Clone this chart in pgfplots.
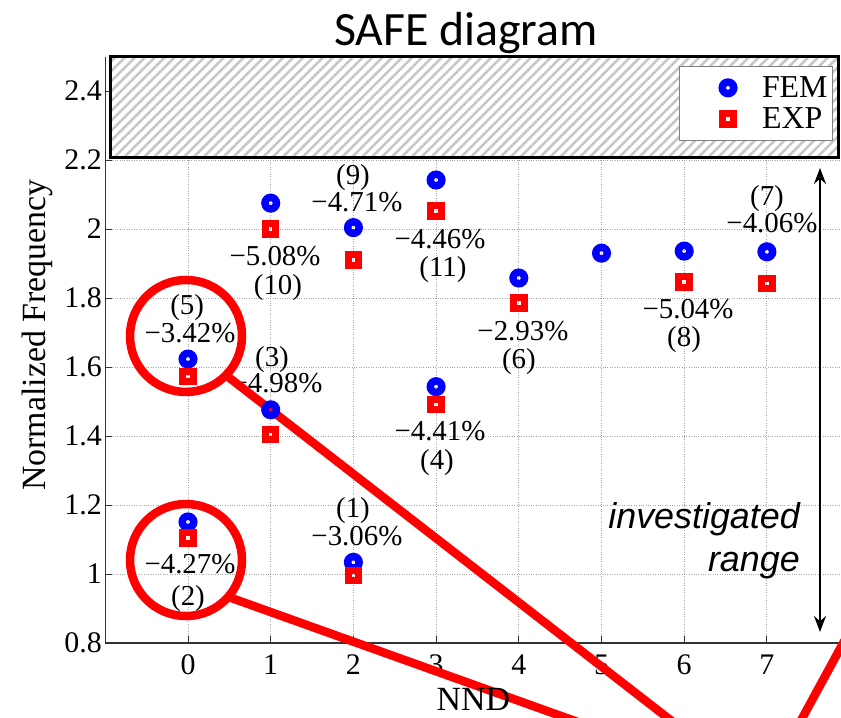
\documentclass[border=0pt]{standalone}
\usepackage{fontspec}
\setmainfont{Liberation Serif}
\newfontfamily\carlito{Carlito}
\newfontfamily\arialfont{Liberation Sans}
\usepackage{pgfplots}
\pgfplotsset{compat=1.18}
\usetikzlibrary{patterns.meta,arrows.meta}
\tikzset{ann/.style={font=\fontsize{29}{34}\selectfont, inner sep=0pt, text height=17bp, text depth=1bp}}
\pgfplotsset{wide marker legend/.style={legend image code/.code={%
  \path[draw=none,fill=none] (0bp,0bp) -- (78bp,0bp);%
  \draw[mark repeat=2,mark phase=2,##1] plot coordinates {(0bp,0bp)(46bp,0bp)(78bp,0bp)};}}}

\pgfplotstableread{
x y
0 1.623
0 1.151
1 2.075
1 1.476
2 2.004
2 1.034
3 2.142
3 1.543
4 1.858
5 1.930
6 1.936
7 1.934
}\femdata

\pgfplotstableread{
x y
0 1.572
0 1.104
1 2.000
1 1.404
2 1.910
2 0.996
3 2.052
3 1.491
4 1.786
6 1.846
7 1.842
}\expdata

\begin{document}
\begin{tikzpicture}
\begin{axis}[
  scale only axis, width=736bp, height=586.5bp,
  xmin=-1, xmax=7.9, ymin=0.8, ymax=2.5,
  axis x line=bottom, axis y line=left,
  axis line style={-, black!80, line width=1.2bp},
  xtick={0,1,2,3,4,5,6,7},
  ytick={0.8,1,1.2,1.4,1.6,1.8,2,2.2,2.4},
  tick align=inside, major tick length=7bp,
  tick style={black!80, line width=1bp},
  grid=major, grid style={dotted, gray!70, line width=1bp},
  ticklabel style={font=\fontsize{30}{36}\selectfont},
  xticklabel style={yshift=-8bp},
  /pgf/number format/assume math mode=true,
  xlabel={NND}, ylabel={Normalized Frequency},
  label style={font=\fontsize{34}{40}\selectfont},
  xlabel style={yshift=-7bp},
  ylabel style={at={(ticklabel cs:0.525,5bp)}},
  clip=false,
  legend style={at={(axis cs:7.80,2.472)}, anchor=north east,
    draw=gray, fill=white, line width=1bp,
    font=\fontsize{32}{38}\selectfont, inner xsep=3bp, inner ysep=8bp,
    row sep=5bp},
  legend cell align=left,
]
% hatched excluded region
\fill[white] (axis cs:-0.943,2.206) rectangle (axis cs:7.86,2.5);
\path[pattern={Lines[angle=45,distance=7bp,line width=2.5bp]}, pattern color=gray!45]
  (axis cs:-0.943,2.206) rectangle (axis cs:7.86,2.5);
\draw[line width=3bp, black] (axis cs:-0.943,2.206) rectangle (axis cs:7.86,2.5);

\addplot[only marks, mark=o, draw=blue, mark size=5.75bp, mark options={line width=7.5bp, draw=blue}, wide marker legend]
  table[x=x,y=y] {\femdata};
\addlegendentry{FEM}
\addplot[only marks, mark=square, draw=red, mark size=5.25bp, mark options={line width=7bp, draw=red}, wide marker legend]
  table[x=x,y=y] {\expdata};
\addlegendentry{EXP}

% annotations
\node[ann] at (axis cs:-0.01,1.774) {(5)};
\node[ann] at (axis cs:0.024,1.693) {−3.42\%};
\node[ann] at (axis cs:1.016,1.626) {(3)};
\node[ann] at (axis cs:1.076,1.548) {−4.98\%};
\node[ann] at (axis cs:1.995,2.153) {(9)};
\node[ann] at (axis cs:2.043,2.075) {−4.71\%};
\node[ann] at (axis cs:1.052,1.916) {−5.08\%};
\node[ann] at (axis cs:1.088,1.832) {(10)};
\node[ann] at (axis cs:3.047,1.968) {−4.46\%};
\node[ann] at (axis cs:3.083,1.887) {(11)};
\node[ann] at (axis cs:3.047,1.409) {−4.41\%};
\node[ann] at (axis cs:3.011,1.325) {(4)};
\node[ann] at (axis cs:1.995,1.186) {(1)};
\node[ann] at (axis cs:2.043,1.107) {−3.06\%};
\node[ann] at (axis cs:0.024,1.026) {−4.27\%};
\node[ann] at (axis cs:0.0,0.933) {(2)};
\node[ann] at (axis cs:4.050,1.699) {−2.93\%};
\node[ann] at (axis cs:4.002,1.620) {(6)};
\node[ann] at (axis cs:6.046,1.765) {−5.04\%};
\node[ann] at (axis cs:5.998,1.684) {(8)};
\node[ann] at (axis cs:7.001,2.090) {(7)};
\node[ann] at (axis cs:7.061,2.012) {−4.06\%};

% investigated range
\draw[{Stealth[length=16bp,width=12bp]}-{Stealth[length=16bp,width=12bp]}, line width=2bp]
  (axis cs:7.642,2.177) -- (axis cs:7.642,0.832);
\node[font=\arialfont\itshape\fontsize{36}{43}\selectfont, align=right, anchor=east, inner sep=0pt]
  at (axis cs:7.40,1.096) {investigated\\range};

% title
\node[font=\carlito\fontsize{48}{58}\selectfont, anchor=base, inner sep=0pt]
  at (axis cs:3.36,2.533) {SAFE diagram};

% red callouts
\draw[red, line width=8.5bp] (axis cs:-0.024,1.690) circle[radius=56bp];
\draw[red, line width=8.5bp] (axis cs:-0.024,1.0406) circle[radius=56bp];
\draw[red, line width=8.5bp] (axis cs:0.423,1.583) -- (axis cs:6.457,0.4609);
\draw[red, line width=8.5bp] (axis cs:0.496,0.933) -- (axis cs:5.998,0.4609);
\draw[red, line width=8.5bp] (axis cs:7.158,0.4638) -- (axis cs:8.126,0.8899);

\coordinate (TL) at (axis cs:-2.2733,2.6638);
\coordinate (BR) at (axis cs:7.896,0.5855);
\end{axis}
\pgfresetboundingbox
\path[use as bounding box] (TL) rectangle (BR);
\end{tikzpicture}
\end{document}
